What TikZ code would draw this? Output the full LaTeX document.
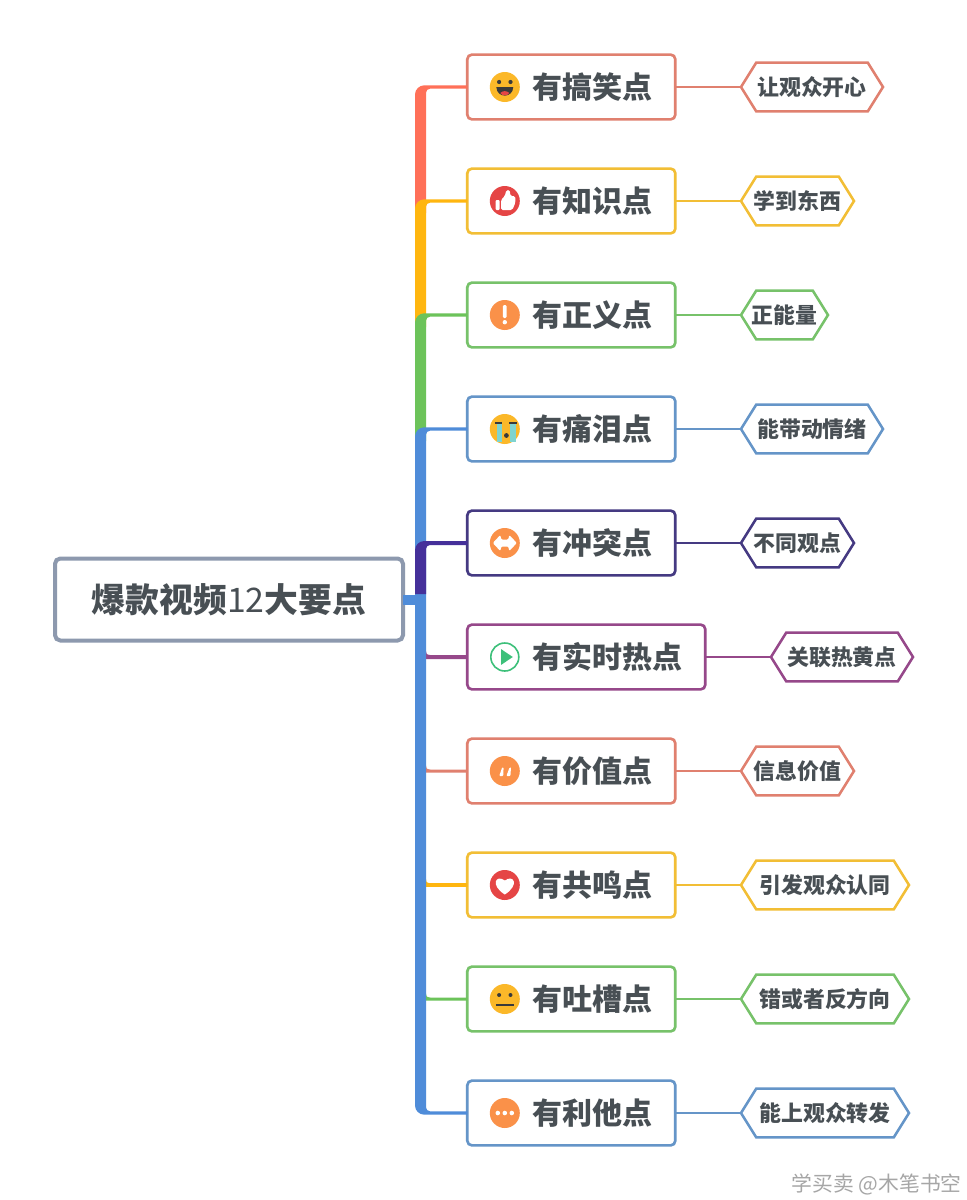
\documentclass[tikz,border=0pt]{standalone}
\usepackage{fontspec}
\setmainfont{Noto Sans CJK SC}
\usetikzlibrary{shapes.symbols}

\definecolor{inkc}{HTML}{484F54}
\definecolor{rootc}{HTML}{8D99AE}
\definecolor{redt}{HTML}{FF7058}
\definecolor{redb}{HTML}{E0806F}
\definecolor{yelt}{HTML}{FFB60F}
\definecolor{yelb}{HTML}{F2BE35}
\definecolor{grnt}{HTML}{6CC35A}
\definecolor{grnb}{HTML}{77C26A}
\definecolor{blut}{HTML}{4F8CD9}
\definecolor{blub}{HTML}{6595C8}
\definecolor{purt}{HTML}{45309A}
\definecolor{purb}{HTML}{453A82}
\definecolor{magb}{HTML}{96488A}
\definecolor{facey}{HTML}{FBB829}
\definecolor{faced}{HTML}{3A3A3A}
\definecolor{oran}{HTML}{FA9149}
\definecolor{redi}{HTML}{E54545}
\definecolor{teari}{HTML}{7FD4D0}
\definecolor{playg}{HTML}{3DC07A}

% tag labels take no width of their own, so the tag keeps its set width
\newcommand{\tagtext}[1]{\makebox[0pt]{#1}}

\tikzset{
  rootbox/.style={draw=rootc,line width=3pt,fill=white,rounded corners=4pt,outer sep=0pt,
    minimum width=261pt,minimum height=61.5pt,inner sep=0pt,text=inkc,
    font=\fontsize{25.35}{26}\selectfont\bfseries,text height=22.3pt,text depth=3.05pt},
  topicbox/.style={draw=#1,line width=2pt,fill=white,rounded corners=3.5pt,outer sep=0pt,
    minimum width=156pt,minimum height=48.6pt,inner sep=0pt,anchor=west,text=inkc,
    font=\fontsize{22.5}{23}\selectfont\bfseries,text height=19.8pt,text depth=2.7pt},
  hexbox/.style={shape=signal,signal to=east and west,signal pointer angle=116,draw=#1,
    line width=1.9pt,fill=white,outer sep=0pt,inner sep=0pt,minimum height=36.5pt,text=inkc,
    font=\fontsize{16.4}{17}\selectfont\bfseries,text height=14.43pt,text depth=1.97pt},
  twig/.style={draw=#1,line width=1.9pt},
  % round icons, 30 px across
  facesmile/.pic={
    \fill[facey] (0,0) circle (15);
    \fill[faced] (-5.7,-5) circle (2.1) (5.7,-5) circle (2.1);
    \fill[faced] (-8.5,0) -- (8.5,0) .. controls (8,11.5) and (-8,11.5) .. cycle;
    \fill[redi] (-4.5,6) .. controls (-2,3.5) and (2,3.5) .. (4.5,6) .. controls (2.5,9.2) and (-2.5,9.2) .. cycle;
  },
  thumbup/.pic={
    \fill[redi] (0,0) circle (15);
    \fill[white,rounded corners=.8pt] (-9.3,-1) rectangle (-5.2,9);
    \fill[white,rounded corners=1.2pt] (-3.8,-1) -- (0,-5) -- (1.6,-11) -- (5,-11) -- (5.5,-5) -- (10.5,-5) -- (10.5,2) -- (7.5,9) -- (-3.8,9) -- cycle;
  },
  alertmark/.pic={
    \fill[oran] (0,0) circle (15);
    \fill[white,rounded corners=1pt] (-1.9,-10) rectangle (1.9,3);
    \fill[white] (0,7.2) circle (2.2);
  },
  facecry/.pic={
    \fill[facey] (0,0) circle (15);
    \fill[teari] (-8,-5) rectangle (-2.8,13);
    \fill[teari] (5.5,-5) rectangle (10.7,12.5);
    \draw[faced,line width=1.1pt] (-10,-6) -- (-3,-6) (4,-6) -- (12,-6);
    \fill[faced] (1.6,6.5) circle (2.4);
  },
  clash/.pic={
    \fill[oran] (0,0) circle (15);
    \fill[white,rounded corners=.8pt] (-12,0) -- (-4.5,-8) -- (-3.5,-3.5) -- (3.5,-3.5) -- (4.5,-8) -- (12,0) -- (4.5,8) -- (3.5,3.5) -- (-3.5,3.5) -- (-4.5,8) -- cycle;
  },
  playmark/.pic={
    \draw[playg,line width=1.2pt,fill=white] (0,0) circle (14);
    \fill[playg] (-3.6,-7.8) -- (8,0) -- (-3.6,7.8) -- cycle;
  },
  quotemark/.pic={
    \fill[oran] (0,0) circle (15);
    \fill[white,rounded corners=.7pt] (-5.6,5) -- (-2.6,-3.6) -- (-1.2,-3.6) -- (-1.6,5) -- cycle;
    \fill[white,rounded corners=.7pt] (1.6,5) -- (4.8,-3.6) -- (6.2,-3.6) -- (5.6,5) -- cycle;
  },
  heartmark/.pic={
    \fill[redi] (0,0) circle (15);
    \fill[white] (0,9.5) .. controls (-15,0) and (-9,-11) .. (0,-4.5) .. controls (9,-11) and (15,0) .. (0,9.5) -- cycle;
  },
  faceflat/.pic={
    \fill[facey] (0,0) circle (15);
    \fill[faced] (-5.7,-4) circle (2) (5.7,-4) circle (2);
    \draw[faced,line width=1.3pt] (-9,6) -- (9,6);
  },
  threedots/.pic={
    \fill[oran] (0,0) circle (15);
    \fill[white] (-7,0) circle (2.3) (0,0) circle (2.3) (7,0) circle (2.3);
  },
}

% An upper limb: thin at the topic box, full trunk width below the rounded bend
\newcommand{\upperlimb}[4]{% colour, topic box, point reached at the foot, half thickness
  \fill[#1] ([shift={(0,-#4)}]#2.west)
    [rounded corners=7pt] -- ([shift={(-52.3,-#4)}]#2.west)
    [sharp corners] -- ([shift={(-52.3,0)}]#3)
    -- ([shift={(-41.3,0)}]#3)
    [rounded corners=3pt] -- ([shift={(-41.3,#4)}]#2.west)
    [sharp corners] -- ([shift={(0,#4)}]#2.west) -- cycle;
}
% A lower limb: a short bar with a small flare where it leaves the trunk
\newcommand{\lowerlimb}[3]{% colour, topic box, half thickness
  \fill[#1] ([shift={(0,-#3)}]#2.west)
    -- ([shift={(-37,-#3)}]#2.west)
    .. controls ([shift={(-41,-#3)}]#2.west) and ([shift={(-41.3,-#3-2)}]#2.west) .. ([shift={(-41.3,-#3-4)}]#2.west)
    -- ([shift={(-46,-#3-4)}]#2.west)
    -- ([shift={(-46,#3)}]#2.west)
    -- ([shift={(0,#3)}]#2.west) -- cycle;
}

\begin{document}
\begin{tikzpicture}[x=.75pt,y=-.75pt]
\useasboundingbox (0,0) rectangle (967,1200);
\fill[white] (0,0) rectangle (967,1200);

% central topic
\node[rootbox] (root) at (229,599.5) {爆款视频{\mdseries 12}大要点};

% topic boxes, with room left for the icon
\node[topicbox=redb]  (b1)  at (467.3,87)   {\hspace*{31.5pt}有搞笑点};
\node[topicbox=yelb]  (b2)  at (467.3,201)  {\hspace*{31.5pt}有知识点};
\node[topicbox=grnb]  (b3)  at (467.3,315)  {\hspace*{31.5pt}有正义点};
\node[topicbox=blub]  (b4)  at (467.3,429)  {\hspace*{31.5pt}有痛泪点};
\node[topicbox=purb]  (b5)  at (467.3,543)  {\hspace*{31.5pt}有冲突点};
\node[topicbox=magb,minimum width=178.5pt] (b6) at (467.3,657) {\hspace*{31.5pt}有实时热点};
\node[topicbox=redb]  (b7)  at (467.3,771)  {\hspace*{31.5pt}有价值点};
\node[topicbox=yelb]  (b8)  at (467.3,885)  {\hspace*{31.5pt}有共鸣点};
\node[topicbox=grnb]  (b9)  at (467.3,999)  {\hspace*{31.5pt}有吐槽点};
\node[topicbox=blub]  (b10) at (467.3,1113) {\hspace*{31.5pt}有利他点};

% side tags
\node[hexbox=redb,minimum width=106.5pt]  (h1)  at (812,87)    {\tagtext{让观众开心}};
\node[hexbox=yelb,minimum width=84.75pt]  (h2)  at (797.5,201) {\tagtext{学到东西}};
\node[hexbox=grnb,minimum width=65.25pt]  (h3)  at (784.5,315) {\tagtext{正能量}};
\node[hexbox=blub,minimum width=106.5pt]  (h4)  at (812,429)   {\tagtext{能带动情绪}};
\node[hexbox=purb,minimum width=84.75pt]  (h5)  at (797.5,543) {\tagtext{不同观点}};
\node[hexbox=magb,minimum width=106.5pt]  (h6)  at (842,657)   {\tagtext{关联热黄点}};
\node[hexbox=redb,minimum width=84.75pt]  (h7)  at (797.5,771) {\tagtext{信息价值}};
\node[hexbox=yelb,minimum width=126pt]    (h8)  at (825,885)   {\tagtext{引发观众认同}};
\node[hexbox=grnb,minimum width=126pt]    (h9)  at (825,999)   {\tagtext{错或者反方向}};
\node[hexbox=blub,minimum width=126pt]    (h10) at (825,1113)  {\tagtext{能上观众转发}};

% box to tag connectors
\draw[twig=redb] (b1.east) -- (h1.west);
\draw[twig=yelb] (b2.east) -- (h2.west);
\draw[twig=grnb] (b3.east) -- (h3.west);
\draw[twig=blub] (b4.east) -- (h4.west);
\draw[twig=purb] (b5.east) -- (h5.west);
\draw[twig=magb] (b6.east) -- (h6.west);
\draw[twig=redb] (b7.east) -- (h7.west);
\draw[twig=yelb] (b8.east) -- (h8.west);
\draw[twig=grnb] (b9.east) -- (h9.west);
\draw[twig=blub] (b10.east) -- (h10.west);

% limbs below the root join the trunk from the right
\lowerlimb{magb}{b6}{2}
\lowerlimb{redb}{b7}{1.5}
\lowerlimb{yelt}{b8}{1.8}
\lowerlimb{grnt}{b9}{1.5}

% upper limbs run on under the bend of the next one
\coordinate (foot1) at ([shift={(0,12)}]b2.west);
\coordinate (foot2) at ([shift={(0,12)}]b3.west);
\coordinate (foot3) at ([shift={(0,12)}]b4.west);
\upperlimb{redt}{b1}{foot1}{1.7}
\upperlimb{yelt}{b2}{foot2}{1.7}
\upperlimb{grnt}{b3}{foot3}{1.7}

% main trunk from the fourth topic to the last
\fill[blut] ([shift={(0,-1.7)}]b4.west)
  [rounded corners=7pt] -- ([shift={(-52.3,-1.7)}]b4.west)
  -- ([shift={(-52.3,1.7)}]b10.west)
  [sharp corners] -- ([shift={(0,1.7)}]b10.west)
  -- ([shift={(0,-1.7)}]b10.west)
  [rounded corners=3pt] -- ([shift={(-41.3,-1.7)}]b10.west)
  -- ([shift={(-41.3,1.7)}]b4.west)
  [sharp corners] -- ([shift={(0,1.7)}]b4.west) -- cycle;

% dark limb rising from the root junction
\coordinate (junction) at (467.3,594);
\upperlimb{purt}{b5}{junction}{2}

% root stem into the trunk
\coordinate (stemend) at (416,599.5);
\draw[blut,line width=7.5pt] (root.east) -- (stemend);

% icons
\pic at ([xshift=37.5*.75pt]b1.west)  {facesmile};
\pic at ([xshift=37.5*.75pt]b2.west)  {thumbup};
\pic at ([xshift=37.5*.75pt]b3.west)  {alertmark};
\pic at ([xshift=37.5*.75pt]b4.west)  {facecry};
\pic at ([xshift=37.5*.75pt]b5.west)  {clash};
\pic at ([xshift=37.5*.75pt]b6.west)  {playmark};
\pic at ([xshift=37.5*.75pt]b7.west)  {quotemark};
\pic at ([xshift=37.5*.75pt]b8.west)  {heartmark};
\pic at ([xshift=37.5*.75pt]b9.west)  {faceflat};
\pic at ([xshift=37.5*.75pt]b10.west) {threedots};

% credit line
\node[anchor=east,text=black!35,inner sep=0pt,font=\fontsize{15.6}{16}\selectfont] (credit) at (962,1184) {学买卖 @木笔书空};
\end{tikzpicture}
\end{document}
